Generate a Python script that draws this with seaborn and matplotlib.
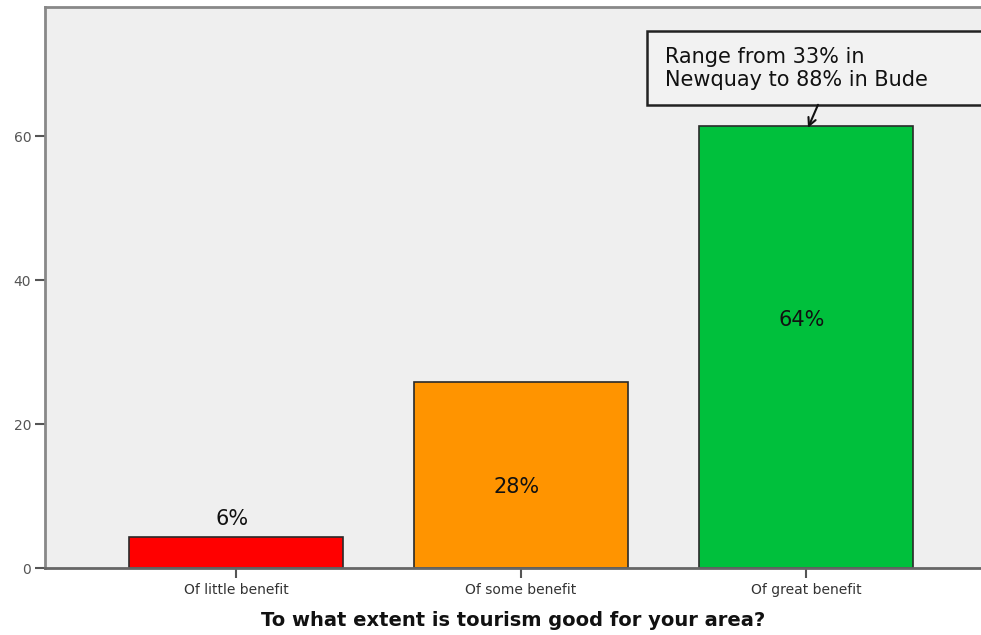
import matplotlib
matplotlib.use("Agg")
import matplotlib.pyplot as plt
import matplotlib.patches as mpatches
import seaborn as sns
import pandas as pd

categories = ["Of little benefit", "Of some benefit", "Of great benefit"]
values = [4.3, 25.8, 61.5]
bar_labels = ["6%", "28%", "64%"]
colors = ["#ff0000", "#ff9400", "#00c03c"]
y_ticks = [0, 20, 40, 60]
note = "Range from 33% in\nNewquay to 88% in Bude"

sns.set_theme(style="white")
plt.rcParams["font.family"] = ["DejaVu Sans"]

df = pd.DataFrame({"cat": categories, "val": values})

fig = plt.figure(figsize=(9.81, 6.35), dpi=100)
ax = fig.add_axes([0.046, 0.1055, 0.954, 0.8835])
ax.set_facecolor("#efefef")

sns.barplot(data=df, x="cat", y="val", hue="cat", palette=colors, order=categories,
            hue_order=categories, width=0.75, edgecolor="#2a2a2a", linewidth=1.2,
            saturation=1, legend=False, ax=ax)

ax.set_xlim(-0.67, 2.614)
ax.set_ylim(0, 78)
ax.set_yticks(y_ticks)
ax.set_yticklabels([str(t) for t in y_ticks], fontsize=10, color="#555555")
ax.set_xticks(range(len(categories)))
ax.set_xticklabels(categories, fontsize=10, color="#333333")
ax.tick_params(axis="both", direction="out", length=7, width=1.5, color="#555555",
               bottom=True, left=True)
ax.tick_params(axis="x", length=7, pad=4)
ax.tick_params(axis="y", pad=3)

for s in ["left", "bottom", "top"]:
    ax.spines[s].set_visible(True)
    ax.spines[s].set_color("#888888")
    ax.spines[s].set_linewidth(2)
ax.spines["bottom"].set_color("#666666")
ax.spines["right"].set_visible(False)

ax.set_ylabel("")
ax.set_xlabel("To what extent is tourism good for your area?", fontsize=14,
              fontweight="bold", labelpad=10, color="#111111")

# value labels
label_y = [6.8, 11.2, 34.5]
for i, (lab, ly) in enumerate(zip(bar_labels, label_y)):
    ax.text(i - 0.015, ly, lab, ha="center", va="center", fontsize=15, color="#111111")

# annotation box
box = mpatches.Rectangle((1.442, 64.4), 1.4, 10.3, transform=ax.transData,
                         fc="#f2f2f2", ec="#222222", lw=1.8, clip_on=False, zorder=5)
ax.add_patch(box)
ax.text(1.505, 69.5, note, ha="left", va="center", fontsize=15, color="#111111",
        linespacing=1.2, zorder=6)
ax.annotate("", xy=(2.007, 61.2), xytext=(2.042, 64.4),
            arrowprops=dict(arrowstyle="->", color="#111111", lw=1.5,
                            shrinkA=0, shrinkB=0, mutation_scale=14), zorder=6)

fig.savefig("out.png", dpi=100)
